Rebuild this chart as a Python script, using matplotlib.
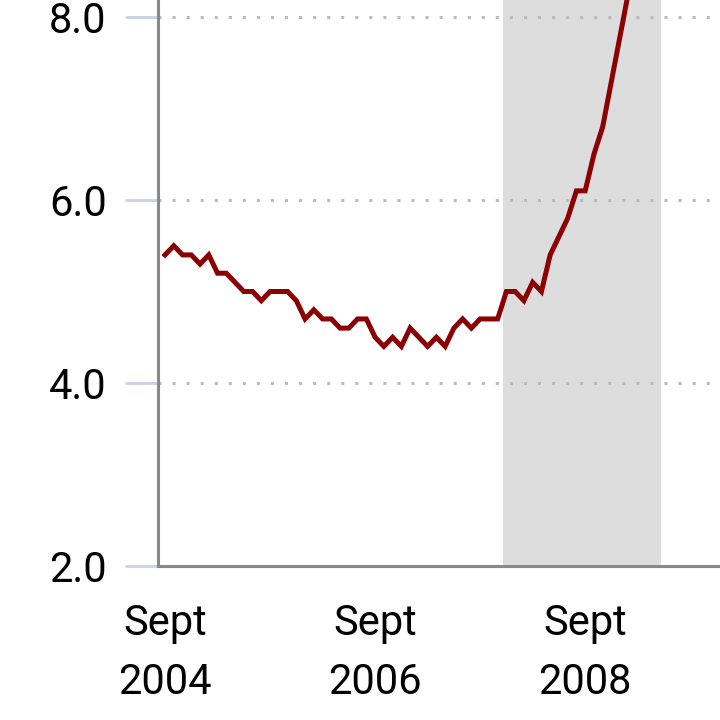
import matplotlib.pyplot as plt
import numpy as np

# monthly unemployment rate, starting Sept 2004
rate = [5.4, 5.5, 5.4, 5.4,
        5.3, 5.4, 5.2, 5.2, 5.1, 5.0, 5.0, 4.9, 5.0, 5.0, 5.0, 4.9,
        4.7, 4.8, 4.7, 4.7, 4.6, 4.6, 4.7, 4.7, 4.5, 4.4, 4.5, 4.4,
        4.6, 4.5, 4.4, 4.5, 4.4, 4.6, 4.7, 4.6, 4.7, 4.7, 4.7, 5.0,
        5.0, 4.9, 5.1, 5.0, 5.4, 5.6, 5.8, 6.1, 6.1, 6.5, 6.8, 7.3,
        7.8, 8.3, 8.7, 9.0, 9.4, 9.5, 9.5, 9.6, 9.8, 10.0]
months = np.arange(len(rate))

tick_pos = [0, 24, 48]
tick_labels = ['Sept\n2004', 'Sept\n2006', 'Sept\n2008']
y_ticks = [2.0, 4.0, 6.0, 8.0]
recession = (38.6, 56.7)

plt.rcParams['font.family'] = ['Roboto', 'DejaVu Sans']

fig = plt.figure(figsize=(7.2, 7.2), dpi=100)
ax = fig.add_axes([158 / 720, 154 / 720, 1 - 158 / 720, 566 / 720])

ax.axvspan(recession[0], recession[1], color='#dddddd', lw=0, zorder=0)
ax.plot(months, rate, color='#8b0000', lw=3.6, zorder=3, solid_joinstyle='miter')

for y in y_ticks[1:]:
    ax.axhline(y, color='#bbbbbb', lw=2.2, ls=(0, (1, 3.6)), zorder=1)

ax.set_xlim(-0.8, 63.4)
ax.set_ylim(2.0, 2.0 + 566 / 91.5)

ax.set_yticks(y_ticks)
ax.set_yticklabels([f'{v:.1f}' for v in y_ticks], fontsize=30)
ax.set_xticks(tick_pos)
ax.set_xticklabels(tick_labels, fontsize=30, linespacing=1.55)

ax.tick_params(axis='y', length=24, width=2, color='#c8d3e6', pad=13)
ax.tick_params(axis='x', length=0, pad=27)

for side in ['top', 'right']:
    ax.spines[side].set_visible(False)
for side in ['left', 'bottom']:
    ax.spines[side].set_color('#888888')
    ax.spines[side].set_linewidth(2.2)

fig.savefig('out.png', dpi=100)
